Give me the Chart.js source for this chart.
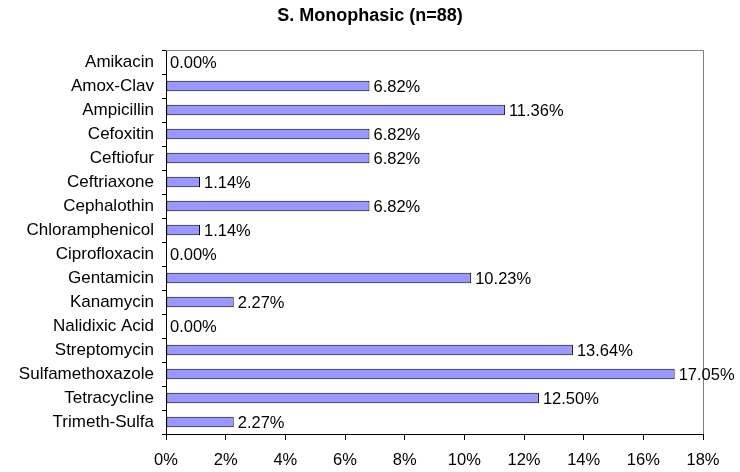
<!DOCTYPE html>
<html>
<head>
<meta charset="utf-8">
<script src="https://cdn.jsdelivr.net/npm/chart.js@4"></script>
<style>
  body { margin: 0; background: #fff; }
  #myChart { display: block; }
</style>
</head>
<body>
<canvas id="myChart" width="740" height="472"></canvas>
<script>
        const labels = [
          'Amikacin',
          'Amox-Clav',
          'Ampicillin',
          'Cefoxitin',
          'Ceftiofur',
          'Ceftriaxone',
          'Cephalothin',
          'Chloramphenicol',
          'Ciprofloxacin',
          'Gentamicin',
          'Kanamycin',
          'Nalidixic Acid',
          'Streptomycin',
          'Sulfamethoxazole',
          'Tetracycline',
          'Trimeth-Sulfa',
        ];
        const values = [0, 6.82, 11.36, 6.82, 6.82, 1.14, 6.82, 1.14, 0, 10.23, 2.27, 0, 13.64, 17.05, 12.50, 2.27];
        const xTicks = [0, 2, 4, 6, 8, 10, 12, 14, 16, 18];
        const titleText = 'S. Monophasic (n=88)';

        const FONT = '"Liberation Sans", Arial, sans-serif';

        // title (centred on the whole canvas), grey plot box, value labels
        const barLabels = {
          id: 'barLabels',
          afterDatasetsDraw(chart) {
            const ctx = chart.ctx;
            const area = chart.chartArea;
            ctx.save();
            ctx.font = 'bold 18px ' + FONT;
            ctx.fillStyle = '#000';
            ctx.textAlign = 'center';
            ctx.textBaseline = 'middle';
            ctx.fillText(titleText, chart.width / 2, 16);

            ctx.strokeStyle = '#808080';
            ctx.lineWidth = 1;
            ctx.beginPath();
            ctx.moveTo(area.left, area.top + 0.5);
            ctx.lineTo(area.right + 0.5, area.top + 0.5);
            ctx.lineTo(area.right + 0.5, area.bottom);
            ctx.stroke();

            ctx.font = '16.5px ' + FONT;
            ctx.textAlign = 'left';
            const meta = chart.getDatasetMeta(0);
            meta.data.forEach((bar, i) => {
              ctx.fillText(values[i].toFixed(2) + '%', bar.x + 4, bar.y + 1);
            });
            ctx.restore();
          }
        };

        const data = {
          labels: labels,
          datasets: [{
            label: 'Resistance',
            backgroundColor: '#9999ff',
            borderColor: '#000',
            borderWidth: 1,
            borderSkipped: false,
            barPercentage: 0.44,
            categoryPercentage: 1,
            data: values,
          }]
        };

        const config = {
          type: 'bar',
          data: data,
          plugins: [barLabels],
          options: {
            indexAxis: 'y',
            responsive: false,
            animation: false,
            layout: { padding: { left: 0, right: 37, top: 50, bottom: 0 } },
            plugins: {
              legend: { display: false },
              tooltip: { enabled: false },
              title: { display: false }
            },
            scales: {
              x: {
                min: 0,
                max: 18,
                afterBuildTicks: (scale) => { scale.ticks = xTicks.map(v => ({ value: v })); },
                afterFit: (scale) => { scale.height = 38; },
                grid: { drawOnChartArea: false, drawTicks: true, tickLength: 6, color: '#000' },
                border: { color: '#000' },
                ticks: {
                  color: '#000',
                  padding: 11,
                  font: { family: FONT, size: 16.5 },
                  callback: (v) => v + '%'
                }
              },
              y: {
                afterFit: (scale) => { scale.width = 166; },
                grid: { offset: true, drawOnChartArea: false, drawTicks: true, tickLength: 4, color: '#000' },
                border: { color: '#000' },
                ticks: {
                  color: '#000',
                  padding: 8,
                  autoSkip: false,
                  font: { family: FONT, size: 17 }
                }
              }
            }
          }
        };

        const myChart = new Chart(
          document.getElementById('myChart'),
          config
        );
</script>
</body>
</html>
